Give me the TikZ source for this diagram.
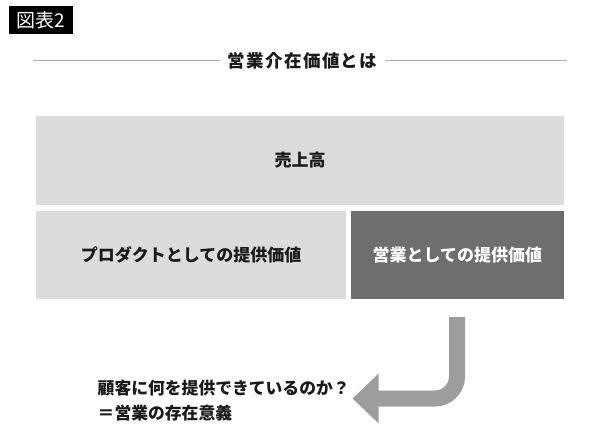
\documentclass[tikz,border=0pt]{standalone}
\usepackage{fontspec}
\usetikzlibrary{arrows.meta}
\newfontfamily\jp{Noto Sans CJK JP}
\newfontfamily\jptitle{Noto Sans CJK JP}[LetterSpace=8]
\definecolor{boxlight}{HTML}{DCDCDC}
\definecolor{boxdark}{HTML}{6F6E6E}
\definecolor{arrowgray}{HTML}{9D9D9D}
\definecolor{rulegray}{HTML}{AAAAAA}
\definecolor{ink}{HTML}{1A1A1A}
\tikzset{
  lightbox/.style={fill=boxlight, draw=none, inner sep=0pt, text=ink,
    font=\jp\bfseries\fontsize{17}{20}\selectfont},
  darkbox/.style={fill=boxdark, draw=none, inner sep=0pt, text=white,
    font=\jp\bfseries\fontsize{17}{20}\selectfont},
  titleline/.style={draw=rulegray, line width=1.1pt},
  bigarrow/.style={draw=arrowgray, line width=16pt, rounded corners=22pt,
    -{Triangle[width=48pt,length=26pt]}},
}
\begin{document}
\begin{tikzpicture}[x=1pt,y=-1pt]
\useasboundingbox (0,0) rectangle (600,440);
\fill[white] (0,0) rectangle (600,440);
% figure tag
\node[fill=black, text=white, minimum width=64pt, minimum height=28pt, inner sep=0pt,
  font=\jp\fontsize{19}{22}\selectfont] (tag) at (41,20) {図表2};
% title with rules
\node[inner xsep=7pt, inner ysep=2pt, text=ink, font=\jptitle\bfseries\fontsize{17.5}{20}\selectfont]
  (title) at (302.5,60.5) {営業介在価値とは};
\coordinate (ruleL) at (33,60.5);
\coordinate (ruleR) at (567,60.5);
\draw[titleline] (ruleL) -- (title);
\draw[titleline] (title) -- (ruleR);
% boxes
\node[lightbox, minimum width=528pt, minimum height=89pt] (sales) at (300,160) {売上高};
\node[lightbox, minimum width=310pt, minimum height=88.5pt] (product) at (191,254.75) {プロダクトとしての提供価値};
\node[darkbox, minimum width=213.5pt, minimum height=88.5pt] (salesval) at (457.25,254.75) {営業としての提供価値};
% bottom text
\node[anchor=west, align=left, inner sep=0pt, text=ink,
  font=\jp\bfseries\fontsize{16.8}{25}\selectfont] (question) at (97.5,400.5)
  {顧客に何を提供できているのか？\\＝営業の存在意義};
% arrow
\coordinate (arrstart) at (457,317);
\coordinate (arrbend) at (457,398.5);
\coordinate (arrtip) at (352.5,398.5);
\draw[bigarrow] (arrstart) -- (arrbend) -- (arrtip);
\end{tikzpicture}
\end{document}
